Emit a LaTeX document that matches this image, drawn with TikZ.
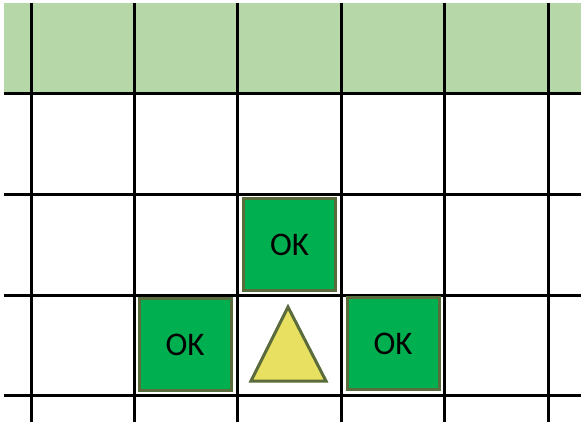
\documentclass[tikz,border=0pt]{standalone}
\usepackage{fontspec}
\setmainfont{Carlito}
\definecolor{bandgreen}{HTML}{B6D7A8}
\definecolor{okgreen}{HTML}{00B050}
\definecolor{olive}{HTML}{5A6B3C}
\definecolor{warnyellow}{HTML}{E8E060}
\tikzset{
  okbox/.style={draw=olive, line width=3pt, fill=okgreen, minimum size=92pt,
    inner sep=0pt, font=\fontsize{33}{38}\selectfont}
}
\begin{document}
\begin{tikzpicture}[x=1pt, y=-1pt]
    \useasboundingbox (0,0) rectangle (581,422);

    % top band
    \fill[bandgreen] (4,3) rectangle (581,94);

    % grid
    \foreach \gx in {31,134,237,341,444,548}
      \draw[line width=3pt] (\gx,3) -- (\gx,422);
    \foreach \gy in {94,195,295,395}
      \draw[line width=3pt] (4,\gy) -- (581,\gy);

    % checked cells
    \node[okbox] (okup) at (289.5,244.5) {OK};
    \node[okbox] (okleft) at (185,344.5) {OK};
    \node[okbox] (okright) at (393,343.5) {OK};

    % agent
    \draw[olive, line width=3pt, fill=warnyellow, line join=miter]
    (288,307) -- (326,381) -- (251,381) -- cycle;

  \end{tikzpicture}
\end{document}
